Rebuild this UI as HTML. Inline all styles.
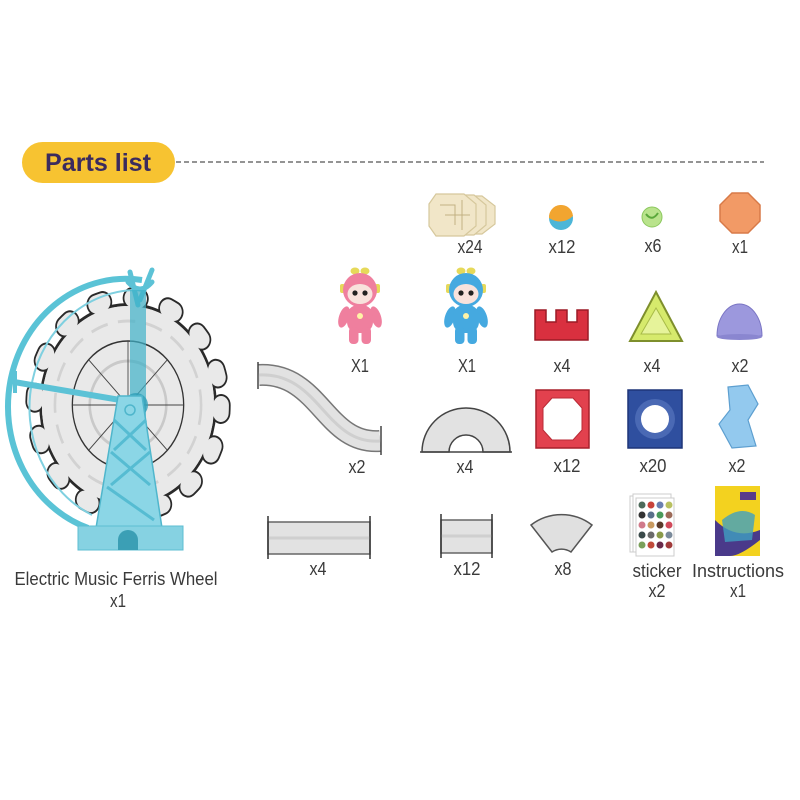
<!DOCTYPE html>
<html><head><meta charset="utf-8"><style>
html,body{margin:0;padding:0;background:#fff;width:800px;height:800px;overflow:hidden}
svg{display:block}
text{font-family:"Liberation Sans",sans-serif;fill:#3a3a3a}
</style></head><body>
<svg width="800" height="800" viewBox="0 0 800 800" xmlns="http://www.w3.org/2000/svg">
<defs>
<g id="fig">
  <ellipse cx="-5" cy="4" rx="4.5" ry="3.5" fill="#e6d95a"/>
  <ellipse cx="5" cy="4" rx="4.5" ry="3.5" fill="#e6d95a"/>
  <rect x="-20" y="17" width="5" height="9" rx="2" fill="#e6d95a"/>
  <rect x="15" y="17" width="5" height="9" rx="2" fill="#e6d95a"/>
  <circle cx="0" cy="23" r="17" fill="currentColor"/>
  <ellipse cx="0" cy="27" rx="12.5" ry="10" fill="#f8e2dc"/>
  <circle cx="-5" cy="26" r="2.6" fill="#222"/>
  <circle cx="5" cy="26" r="2.6" fill="#222"/>
  <ellipse cx="-16" cy="50" rx="5" ry="11" fill="currentColor" transform="rotate(18 -16 50)"/>
  <ellipse cx="16" cy="50" rx="5" ry="11" fill="currentColor" transform="rotate(-18 16 50)"/>
  <rect x="-13" y="38" width="26" height="28" rx="11" fill="currentColor"/>
  <circle cx="0" cy="49" r="3" fill="#fff3a6"/>
  <rect x="-11" y="60" width="9.5" height="17" rx="4" fill="currentColor"/>
  <rect x="1.5" y="60" width="9.5" height="17" rx="4" fill="currentColor"/>
</g>
</defs>

<!-- Header -->
<rect x="22" y="142" width="153" height="41" rx="20.5" fill="#f7c331"/>
<text x="98" y="171" text-anchor="middle" font-size="25" font-weight="bold" style="fill:#3b2b5e" textLength="106" lengthAdjust="spacingAndGlyphs">Parts list</text>
<line x1="176" y1="162" x2="764" y2="162" stroke="#555" stroke-width="1.3" stroke-dasharray="5 3"/>

<!-- Ferris wheel -->
<g transform="translate(128,405) scale(0.87,1)">
  <circle r="100.5" fill="none" stroke="#2a2a2a" stroke-width="3"/>
  <circle r="107" fill="none" stroke="#2a2a2a" stroke-width="22" stroke-linecap="round" stroke-dasharray="8 34.41"/>
  <circle r="99" fill="#e9e9e9"/>
  <circle r="107" fill="none" stroke="#e9e9e9" stroke-width="18" stroke-linecap="round" stroke-dasharray="8 34.41"/>
  <circle r="64" fill="none" stroke="#333" stroke-width="1.5"/>
  <circle r="44" fill="none" stroke="#c9c9c9" stroke-width="3"/>
  <circle r="84" fill="none" stroke="#d2d2d2" stroke-width="3" stroke-dasharray="20 12"/>
  <g stroke="#444" stroke-width="1">
    <line x1="0" y1="0" x2="64" y2="0"/><line x1="0" y1="0" x2="-64" y2="0"/>
    <line x1="0" y1="0" x2="0" y2="64"/><line x1="0" y1="0" x2="0" y2="-64"/>
    <line x1="0" y1="0" x2="45" y2="45"/><line x1="0" y1="0" x2="-45" y2="-45"/>
    <line x1="0" y1="0" x2="45" y2="-45"/><line x1="0" y1="0" x2="-45" y2="45"/>
  </g>
</g>
<path d="M142 280 A118 128 0 0 0 88 528" fill="none" stroke="#5ac3d6" stroke-width="6"/>
<path d="M140 290 A108 118 0 0 0 92 515" fill="none" stroke="#7fd0e0" stroke-width="2"/>
<line x1="14" y1="382" x2="132" y2="402" stroke="#5cc2d6" stroke-width="6"/>
<line x1="15" y1="371" x2="15" y2="393" stroke="#5cc2d6" stroke-width="4"/>
<path d="M138 305 L130 272 M140 300 L152 270 M128 282 Q140 296 152 282" fill="none" stroke="#5cc2d6" stroke-width="5" stroke-linecap="round"/>
<rect x="130" y="290" width="16" height="240" fill="#3fb0c8" opacity="0.7"/>
<circle cx="136" cy="405" r="12" fill="#2f9fb8" opacity="0.8"/>
<polygon points="118,396 142,396 162,528 96,528" fill="#8bd6e6" stroke="#4fb6cc" stroke-width="1.5"/>
<g stroke="#56bcd2" stroke-width="3">
  <line x1="114" y1="420" x2="146" y2="450"/><line x1="146" y1="420" x2="114" y2="450"/>
  <line x1="111" y1="452" x2="150" y2="485"/><line x1="150" y1="452" x2="111" y2="485"/>
  <line x1="107" y1="487" x2="154" y2="520"/>
</g>
<circle cx="130" cy="410" r="5" fill="none" stroke="#4fb6cc" stroke-width="1.5"/>
<rect x="78" y="526" width="105" height="24" fill="#86d2e2" stroke="#5cbdd2" stroke-width="1"/>
<path d="M118 550 L118 540 A10 10 0 0 1 138 540 L138 550 Z" fill="#3b9fb5"/>

<!-- Top row -->
<g stroke="#d6c89c" stroke-width="1.2" fill="#f1e6c8">
  <polygon points="452,196 482,196 495,206 495,224 482,234 452,234 445,224 445,206"/>
  <polygon points="444,195 474,195 486,205 486,225 474,235 444,235 437,225 437,205"/>
  <polygon points="436,194 464,194 476,204 476,226 464,236 436,236 429,226 429,204"/>
</g>
<path d="M440 205 L455 205 L455 225 M445 215 L470 215 M462 200 L462 230" stroke="#c2b183" stroke-width="1" fill="none"/>
<circle cx="561" cy="218" r="12" fill="#4cb6d8"/>
<path d="M549 218 A12 12 0 0 1 573 216 Q562 226 549 218 Z" fill="#f2a530"/>
<circle cx="652" cy="217" r="10" fill="#b9e38c" stroke="#8cc85e" stroke-width="1"/>
<path d="M646 214 Q652 222 658 213" stroke="#5aa83a" stroke-width="2" fill="none"/>
<polygon points="732,193 748,193 760,205 760,221 748,233 732,233 720,221 720,205" fill="#f29a66" stroke="#d87a48" stroke-width="1.5"/>

<text x="470" y="253" font-size="18" text-anchor="middle" textLength="25" lengthAdjust="spacingAndGlyphs">x24</text>
<text x="562" y="253" font-size="18" text-anchor="middle" textLength="27" lengthAdjust="spacingAndGlyphs">x12</text>
<text x="653" y="252" font-size="18" text-anchor="middle" textLength="17" lengthAdjust="spacingAndGlyphs">x6</text>
<text x="740" y="253" font-size="18" text-anchor="middle" textLength="16" lengthAdjust="spacingAndGlyphs">x1</text>

<!-- Row 2 -->
<use href="#fig" transform="translate(360,267)" color="#ef7f9e"/>
<use href="#fig" transform="translate(466,267)" color="#45a9e0"/>
<path d="M535 310 H546 V322 H556 V310 H567 V322 H577 V310 H588 V340 H535 Z" fill="#d9303f" stroke="#9c1a26" stroke-width="1.5"/>
<polygon points="656,292 682,341 630,341" fill="#d6ea6c" stroke="#7e8f2c" stroke-width="2"/>
<polygon points="656,308 671,334 641,334" fill="#e6f39a" stroke="#a8bb48" stroke-width="1"/>
<path d="M717 336 A22.5 32 0 0 1 762 336 Z" fill="#9c98dd" stroke="#7a75c4" stroke-width="1"/>
<ellipse cx="739.5" cy="337" rx="22.5" ry="3" fill="#8a86d0"/>

<text x="360" y="372" font-size="18" text-anchor="middle" textLength="18" lengthAdjust="spacingAndGlyphs">X1</text>
<text x="467" y="372" font-size="18" text-anchor="middle" textLength="18" lengthAdjust="spacingAndGlyphs">X1</text>
<text x="562" y="372" font-size="18" text-anchor="middle" textLength="17" lengthAdjust="spacingAndGlyphs">x4</text>
<text x="652" y="372" font-size="18" text-anchor="middle" textLength="17" lengthAdjust="spacingAndGlyphs">x4</text>
<text x="740" y="372" font-size="18" text-anchor="middle" textLength="17" lengthAdjust="spacingAndGlyphs">x2</text>

<!-- Row 3 -->
<path d="M259 375 C320 372 325 445 380 441" fill="none" stroke="#777" stroke-width="22"/>
<path d="M259 375 C320 372 325 445 380 441" fill="none" stroke="#e2e2e2" stroke-width="19"/>
<path d="M259 375 C320 372 325 445 380 441" fill="none" stroke="#cfcfcf" stroke-width="3"/>
<line x1="258" y1="362" x2="258" y2="389" stroke="#444" stroke-width="1.5"/>
<line x1="381" y1="426" x2="381" y2="455" stroke="#444" stroke-width="1.5"/>
<path d="M422 452 A44 44 0 0 1 510 452 L483 452 A17 17 0 0 0 449 452 Z" fill="#e2e2e2" stroke="#444" stroke-width="1.5"/>
<line x1="420" y1="452" x2="512" y2="452" stroke="#444" stroke-width="1.5"/>
<rect x="536" y="390" width="53" height="58" fill="#e2414e" stroke="#a8202c" stroke-width="1.5"/>
<polygon points="552,398 573,398 582,408 582,430 573,440 552,440 543,430 543,408" fill="#fff" stroke="#b92a36" stroke-width="1"/>
<rect x="628" y="390" width="54" height="58" fill="#2f4f9f" stroke="#1e3578" stroke-width="1.5"/>
<circle cx="655" cy="419" r="20" fill="#4a69b4"/>
<circle cx="655" cy="419" r="14" fill="#fff"/>
<polygon points="728,387 748,385 758,404 748,420 756,446 732,448 719,424 730,410" fill="#93c9ee" stroke="#5d9fd0" stroke-width="1.2"/>

<text x="357" y="473" font-size="18" text-anchor="middle" textLength="17" lengthAdjust="spacingAndGlyphs">x2</text>
<text x="465" y="473" font-size="18" text-anchor="middle" textLength="17" lengthAdjust="spacingAndGlyphs">x4</text>
<text x="567" y="472" font-size="18" text-anchor="middle" textLength="27" lengthAdjust="spacingAndGlyphs">x12</text>
<text x="653" y="472" font-size="18" text-anchor="middle" textLength="27" lengthAdjust="spacingAndGlyphs">x20</text>
<text x="737" y="472" font-size="18" text-anchor="middle" textLength="17" lengthAdjust="spacingAndGlyphs">x2</text>

<!-- Row 4 -->
<rect x="268" y="522" width="102" height="32" fill="#e2e2e2" stroke="#666" stroke-width="1.5"/>
<line x1="268" y1="538" x2="370" y2="538" stroke="#cfcfcf" stroke-width="3"/>
<line x1="268" y1="516" x2="268" y2="559" stroke="#333" stroke-width="1.5"/>
<line x1="370" y1="516" x2="370" y2="559" stroke="#333" stroke-width="1.5"/>
<rect x="441" y="520" width="51" height="33" fill="#e2e2e2" stroke="#666" stroke-width="1.5"/>
<line x1="441" y1="536" x2="492" y2="536" stroke="#cfcfcf" stroke-width="3"/>
<line x1="441" y1="514" x2="441" y2="558" stroke="#333" stroke-width="1.5"/>
<line x1="492" y1="514" x2="492" y2="558" stroke="#333" stroke-width="1.5"/>
<path d="M531 525 A50 50 0 0 1 592 525 L571 552 A17 17 0 0 0 552 552 Z" fill="#e0e0e0" stroke="#555" stroke-width="1.5"/>

<g>
  <rect x="630" y="496" width="38" height="56" fill="#fff" stroke="#ccc"/>
  <rect x="633" y="494" width="38" height="58" fill="#fff" stroke="#ccc"/>
  <rect x="636" y="498" width="38" height="58" fill="#fff" stroke="#ccc"/>
  <g>
    <circle cx="642" cy="505" r="3.5" fill="#4d6a5a"/><circle cx="651" cy="505" r="3.5" fill="#c8423a"/><circle cx="660" cy="505" r="3.5" fill="#6a7fb0"/><circle cx="669" cy="505" r="3.5" fill="#b8c060"/>
    <circle cx="642" cy="515" r="3.5" fill="#333"/><circle cx="651" cy="515" r="3.5" fill="#59708a"/><circle cx="660" cy="515" r="3.5" fill="#4a9a5a"/><circle cx="669" cy="515" r="3.5" fill="#9c6a58"/>
    <circle cx="642" cy="525" r="3.5" fill="#d07a8a"/><circle cx="651" cy="525" r="3.5" fill="#c89a60"/><circle cx="660" cy="525" r="3.5" fill="#5a3a2a"/><circle cx="669" cy="525" r="3.5" fill="#d04a5a"/>
    <circle cx="642" cy="535" r="3.5" fill="#3a4a4a"/><circle cx="651" cy="535" r="3.5" fill="#6a6a6a"/><circle cx="660" cy="535" r="3.5" fill="#8a9a4a"/><circle cx="669" cy="535" r="3.5" fill="#7a8a9a"/>
    <circle cx="642" cy="545" r="3.5" fill="#7aa05a"/><circle cx="651" cy="545" r="3.5" fill="#c04a3a"/><circle cx="660" cy="545" r="3.5" fill="#6a2a4a"/><circle cx="669" cy="545" r="3.5" fill="#a03a3a"/>
  </g>
</g>
<rect x="715" y="486" width="45" height="70" fill="#f3d21f"/>
<path d="M715 556 V520 Q735 540 760 530 V540 Q740 556 730 556 Z" fill="#4a3a8a"/>
<path d="M722 520 Q740 505 755 515 L752 540 L725 542 Z" fill="#3fa0c0" opacity="0.8"/>
<rect x="740" y="492" width="16" height="8" fill="#5a3a8a"/>

<text x="318" y="575" font-size="18" text-anchor="middle" textLength="17" lengthAdjust="spacingAndGlyphs">x4</text>
<text x="467" y="575" font-size="18" text-anchor="middle" textLength="27" lengthAdjust="spacingAndGlyphs">x12</text>
<text x="563" y="575" font-size="18" text-anchor="middle" textLength="17" lengthAdjust="spacingAndGlyphs">x8</text>
<text x="657" y="577" font-size="18" text-anchor="middle" textLength="49" lengthAdjust="spacingAndGlyphs">sticker</text>
<text x="657" y="597" font-size="18" text-anchor="middle" textLength="17" lengthAdjust="spacingAndGlyphs">x2</text>
<text x="738" y="577" font-size="18" text-anchor="middle" textLength="92" lengthAdjust="spacingAndGlyphs">Instructions</text>
<text x="738" y="597" font-size="18" text-anchor="middle" textLength="16" lengthAdjust="spacingAndGlyphs">x1</text>

<text x="116" y="585" font-size="18" text-anchor="middle" textLength="203" lengthAdjust="spacingAndGlyphs">Electric Music Ferris Wheel</text>
<text x="118" y="607" font-size="18" text-anchor="middle" textLength="16" lengthAdjust="spacingAndGlyphs">x1</text>
</svg>
</body></html>
